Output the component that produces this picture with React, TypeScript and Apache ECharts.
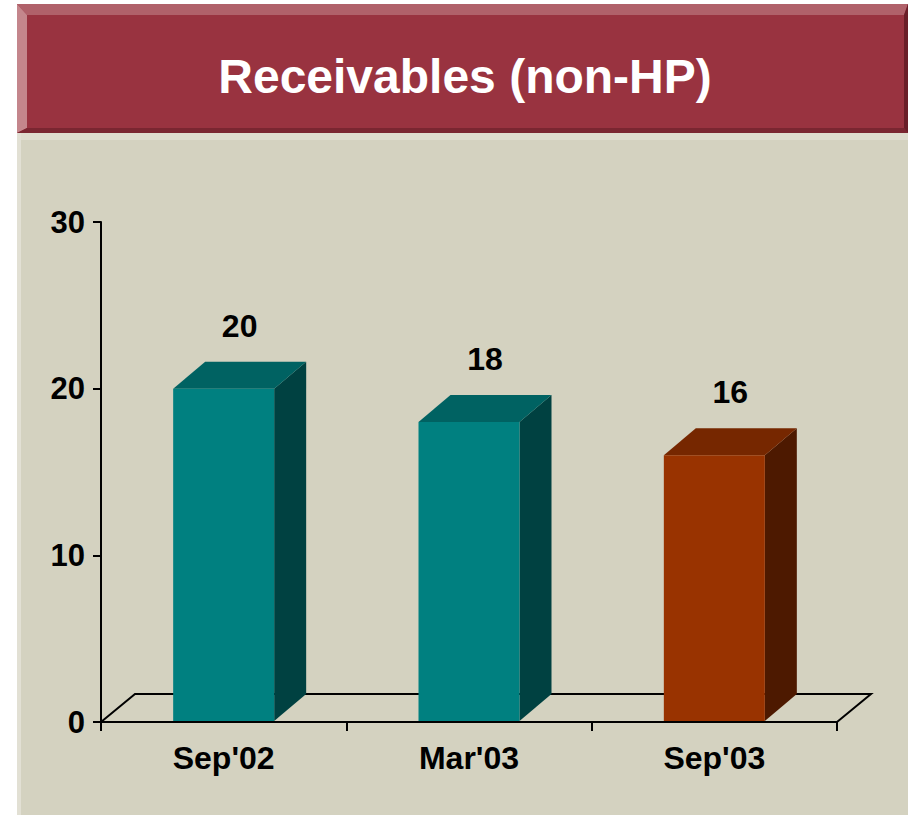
import React, { useEffect, useRef } from "react";
import * as echarts from "echarts";

const categories = ["Sep'02", "Mar'03", "Sep'03"];
const values = [20, 18, 16];
const yMin = 0;
const yMax = 30;
const yStep = 10;
const title = "Receivables (non-HP)";

const FONT = "'Liberation Sans', Arial, Helvetica, sans-serif";
const BAR_W = 101;
const BAR_DX = 32;
const BAR_DY = -27;
const FLOOR_DX = 34;
const FLOOR_DY = -28;
const barColors = [
  { front: "#008080", top: "#006262", side: "#004141" },
  { front: "#008080", top: "#006262", side: "#004141" },
  { front: "#993300", top: "#762700", side: "#4D1900" },
];

export default function App() {
  const ref = useRef<HTMLDivElement>(null);
  useEffect(() => {
    document.body.style.margin = "0";
    const chart = echarts.init(ref.current!, null, { renderer: "svg" });
    const option: any = {
      animation: false,
      backgroundColor: "#ffffff",
      graphic: [
        { type: "rect", z: -10, shape: { x: 17, y: 133, width: 891, height: 682 }, style: { fill: "#D4D2C0" } },
        { type: "rect", z: -9, shape: { x: 17, y: 133, width: 891, height: 7 }, style: { fill: "#DEDCCE" } },
        { type: "rect", z: -9, shape: { x: 17, y: 133, width: 4, height: 682 }, style: { fill: "#E2E0D4" } },
        { type: "rect", z: -8, shape: { x: 17, y: 4, width: 891, height: 129 }, style: { fill: "#993340" } },
        { type: "polygon", z: -7, shape: { points: [[17, 4], [908, 4], [904, 15], [27, 15]] }, style: { fill: "#B0616A" } },
        { type: "polygon", z: -7, shape: { points: [[17, 4], [27, 15], [27, 128], [17, 133]] }, style: { fill: "#C4868C" } },
        { type: "polygon", z: -7, shape: { points: [[17, 133], [27, 128], [904, 128], [908, 133]] }, style: { fill: "#7A2631" } },
        { type: "polygon", z: -7, shape: { points: [[904, 15], [908, 4], [908, 133], [904, 128]] }, style: { fill: "#6A1E28" } },
        {
          type: "text",
          z: 10,
          x: 465,
          y: 76,
          style: {
            text: title,
            fill: "#ffffff",
            font: `bold 48px ${FONT}`,
            align: "center",
            verticalAlign: "middle",
          },
        },
      ],
      grid: { left: 101, right: 71, top: 222, bottom: 93, containLabel: false, outerBoundsMode: "none" },
      xAxis: {
        type: "category",
        data: categories,
        axisLine: { show: true, lineStyle: { color: "#000", width: 2 } },
        axisTick: { show: true, length: 9, lineStyle: { color: "#000", width: 2 } },
        axisLabel: { color: "#000", fontSize: 32, fontWeight: "bold", fontFamily: FONT, margin: 20 },
        splitLine: { show: false },
      },
      yAxis: {
        type: "value",
        min: yMin,
        max: yMax,
        interval: yStep,
        axisLine: { show: true, lineStyle: { color: "#000", width: 2 } },
        axisTick: { show: true, length: 8, lineStyle: { color: "#000", width: 2 } },
        axisLabel: { color: "#000", fontSize: 31, fontWeight: "bold", fontFamily: FONT, margin: 16 },
        splitLine: { show: false },
      },
      series: [
        {
          type: "custom",
          z: 1,
          silent: true,
          data: [[0, 0]],
          encode: { x: 0, y: 1 },
          renderItem: (params: any) => {
            const cs = params.coordSys;
            const x = cs.x, w = cs.width, yb = cs.y + cs.height;
            return {
              type: "polyline",
              shape: {
                points: [
                  [x, yb],
                  [x + FLOOR_DX, yb + FLOOR_DY],
                  [x + w + FLOOR_DX, yb + FLOOR_DY],
                  [x + w, yb],
                ],
              },
              style: { stroke: "#000", lineWidth: 2, fill: null },
            };
          },
        },
        {
          type: "custom",
          z: 3,
          silent: true,
          data: values.map((v, i) => [i, v]),
          encode: { x: 0, y: 1 },
          renderItem: (params: any, api: any) => {
            const idx = api.value(0);
            const val = api.value(1);
            const top = api.coord([idx, val]);
            const base = api.coord([idx, 0]);
            const c = barColors[idx];
            const x0 = top[0] - BAR_W / 2;
            const x1 = top[0] + BAR_W / 2;
            const yt = top[1];
            const yb = base[1] - 1;
            return {
              type: "group",
              children: [
                {
                  type: "polygon",
                  shape: { points: [[x1, yt], [x1 + BAR_DX, yt + BAR_DY], [x1 + BAR_DX, yb + BAR_DY], [x1, yb]] },
                  style: { fill: c.side },
                },
                {
                  type: "polygon",
                  shape: { points: [[x0, yt], [x0 + BAR_DX, yt + BAR_DY], [x1 + BAR_DX, yt + BAR_DY], [x1, yt]] },
                  style: { fill: c.top },
                },
                {
                  type: "rect",
                  shape: { x: x0, y: yt, width: BAR_W, height: yb - yt },
                  style: { fill: c.front },
                },
                {
                  type: "text",
                  x: top[0] + BAR_DX / 2,
                  y: yt - 63,
                  style: {
                    text: String(val),
                    fill: "#000",
                    font: `bold 32px ${FONT}`,
                    align: "center",
                    verticalAlign: "middle",
                  },
                },
              ],
            };
          },
        },
      ],
    };
    chart.setOption(option);
    return () => chart.dispose();
  }, []);
  return <div ref={ref} style={{ position: "absolute", left: 0, top: 0, width: 908, height: 815 }} />;
}
